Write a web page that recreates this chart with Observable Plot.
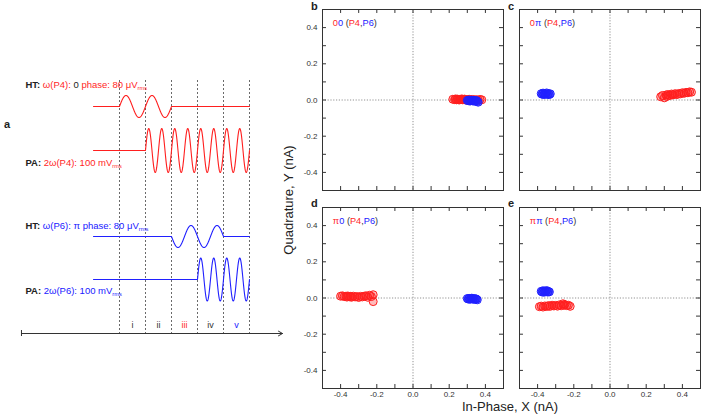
<!DOCTYPE html>
<html><head><meta charset="utf-8">
<script src="https://cdn.jsdelivr.net/npm/d3@7"></script>
<script src="https://cdn.jsdelivr.net/npm/@observablehq/plot@0.6"></script>
<style>
body{margin:0;background:#fff;}
#fig{position:relative;width:701px;height:415px;overflow:hidden;background:#fff;}
</style></head>
<body><div id="fig"></div>
<script>
// ---------------- DATA ----------------
// scatter panels (In-Phase X, Quadrature Y in nA)
const b00_P4_x = [0.22,0.23,0.235,0.24,0.245,0.25,0.255,0.26,0.265,0.27,0.275,0.28,0.285,0.29,0.30,0.31,0.32,0.33,0.34,0.35,0.36,0.37,0.38];
const b00_P4_y = [0.004,0.002,0.006,0.001,0.005,0.003,0.0,0.004,0.002,0.006,0.001,0.003,0.005,0.0,0.002,0.004,0.001,0.003,0.0,0.002,-0.001,0.003,0.001];
const b00_P6_x = [0.30,0.305,0.31,0.315,0.32,0.325,0.33,0.335,0.34,0.345,0.35,0.355,0.36];
const b00_P6_y = [-0.002,-0.004,0.0,-0.006,-0.003,-0.001,-0.005,-0.002,-0.007,-0.004,-0.003,-0.008,-0.012];

const c0pi_P4_x = [0.28,0.29,0.30,0.31,0.315,0.32,0.33,0.34,0.345,0.35,0.36,0.37,0.38,0.39,0.40,0.41,0.42,0.43,0.44,0.45];
const c0pi_P4_y = [0.018,0.025,0.012,0.028,0.02,0.03,0.025,0.033,0.028,0.03,0.035,0.03,0.036,0.034,0.04,0.037,0.042,0.04,0.045,0.043];
const c0pi_P6_x = [-0.38,-0.375,-0.37,-0.365,-0.36,-0.355,-0.35,-0.345,-0.34,-0.335,-0.33];
const c0pi_P6_y = [0.035,0.032,0.038,0.03,0.036,0.033,0.039,0.031,0.035,0.03,0.034];

const dpi0_P4_x = [-0.40,-0.39,-0.38,-0.37,-0.365,-0.36,-0.35,-0.345,-0.34,-0.33,-0.32,-0.31,-0.30,-0.29,-0.28,-0.27,-0.26,-0.25,-0.24,-0.23,-0.22,-0.22];
const dpi0_P4_y = [0.01,0.012,0.008,0.01,0.005,0.011,0.007,0.009,0.004,0.01,0.006,0.008,0.003,0.009,0.006,0.01,0.012,0.004,0.015,0.008,0.018,-0.02];
const dpi0_P6_x = [0.30,0.305,0.31,0.315,0.32,0.325,0.33,0.335,0.34,0.345,0.35,0.355];
const dpi0_P6_y = [-0.003,-0.006,-0.002,-0.007,-0.004,-0.001,-0.006,-0.003,-0.008,-0.004,-0.006,-0.01];

const epipi_P4_x = [-0.39,-0.38,-0.37,-0.36,-0.35,-0.34,-0.33,-0.32,-0.31,-0.30,-0.29,-0.28,-0.27,-0.26,-0.255,-0.25,-0.24,-0.23,-0.22];
const epipi_P4_y = [-0.048,-0.045,-0.05,-0.044,-0.047,-0.042,-0.046,-0.04,-0.044,-0.041,-0.045,-0.038,-0.043,-0.032,-0.04,-0.036,-0.042,-0.04,-0.046];
const epipi_P6_x = [-0.38,-0.375,-0.37,-0.365,-0.36,-0.355,-0.35,-0.345,-0.34,-0.335];
const epipi_P6_y = [0.037,0.033,0.04,0.032,0.038,0.035,0.041,0.033,0.036,0.034];

const panelTags = [["0","0"],["0","π"],["π","0"],["π","π"]];
const minorTicks = [-0.4,-0.3,-0.2,-0.1,0,0.1,0.2,0.3,0.4];
const labelTicks = [-0.4,-0.2,0,0.2,0.4];

// schematic (panel a): time segments and drive traces
const segmentBounds = [1,2,3,4,5,6];
const segmentLabels = ["i","ii","iii","iv","v"];
const traceNames = ["HT P4","PA P4","HT P6","PA P6"];
const traceLevels = [10.6,15.0,23.6,27.9];
const traceAmps = [1.1,2.2,1.1,2.15];
const burstStarts = [1,2,3,4];
const burstEnds = [3,6,5,6];
const burstCycles = [2,8,2,4];
const burstPhases = [0,0,Math.PI,0];
const labelLevels = [8.5,16.3,22.6,29.1];
const timeAxisRange = [-2.77,7.27];
const timeAxisLevel = 33.3;
const dashTopLevel = 8.0;
const numeralLevel = 32.5;

// ---------------- STYLE ----------------
const RED = "#ff1f1f", BLUE = "#2020ff", DARK = "#222";
const FONT = '"Liberation Sans", Arial, Helvetica, sans-serif';
const fig = document.getElementById("fig");
function place(el, left, top){ el.style.position="absolute"; el.style.left=left+"px"; el.style.top=top+"px"; fig.appendChild(el); }
const zip = (xs, ys) => xs.map((x,i)=>({x, y: ys[i]}));
function lin(plot, name){ const s = plot.scale(name); return d3.scaleLinear(s.domain, s.range); }
function addParts(svg, x, y, parts, fs, anchor){
  const t = d3.select(svg).append("text").attr("x", x).attr("y", y)
    .attr("font-family", FONT).attr("font-size", fs).attr("text-anchor", anchor || "start")
    .attr("dominant-baseline", "middle").attr("fill", DARK);
  for (const p of parts) {
    const ts = t.append("tspan").attr("fill", p.c || DARK).text(p.s);
    if (p.b) ts.attr("font-weight", "bold");
    if (p.sub) ts.attr("font-size", fs*0.6).attr("dy", fs*0.35);
  }
}

// ---------------- SCATTER PANELS ----------------
function scatter(red, blue, tag, showX, showY){
  const tl = 0.022;
  const plot = Plot.plot({
    width: 215, height: 210, marginLeft: 32, marginRight: 2, marginTop: 9, marginBottom: 20,
    style: {background: "transparent", overflow: "visible", fontFamily: FONT, fontSize: "8px", color: "#333"},
    x: {domain: [-0.5,0.5], axis: showX ? "bottom" : null, ticks: labelTicks, tickSize: 0, tickPadding: 3, tickFormat: d => d.toFixed(1), label: null},
    y: {domain: [-0.5,0.5], axis: showY ? "left" : null, ticks: labelTicks, tickSize: 0, tickPadding: 5, tickFormat: d => d.toFixed(1), label: null},
    marks: [
      Plot.ruleX([0], {stroke: "#777", strokeWidth: 0.8, strokeDasharray: "1.2,1.6"}),
      Plot.ruleY([0], {stroke: "#777", strokeWidth: 0.8, strokeDasharray: "1.2,1.6"}),
      Plot.ruleX(minorTicks, {x: d => d, y1: -0.5, y2: -0.5 + tl, stroke: "#333"}),
      Plot.ruleX(minorTicks, {x: d => d, y1: 0.5, y2: 0.5 - tl, stroke: "#333"}),
      Plot.ruleY(minorTicks, {y: d => d, x1: -0.5, x2: -0.5 + tl, stroke: "#333"}),
      Plot.ruleY(minorTicks, {y: d => d, x1: 0.5, x2: 0.5 - tl, stroke: "#333"}),
      Plot.dot(red, {x: "x", y: "y", r: 4, fill: RED, fillOpacity: 0.3, stroke: RED, strokeWidth: 1}),
      Plot.dot(blue, {x: "x", y: "y", r: 4, fill: BLUE, fillOpacity: 0.4, stroke: BLUE, strokeWidth: 1}),
      Plot.frame({stroke: "#333", strokeWidth: 1})
    ]
  });
  const sx = lin(plot, "x"), sy = lin(plot, "y");
  addParts(plot, sx(-0.44), sy(0.417), [
    {s: tag[0], c: RED}, {s: tag[1], c: BLUE}, {s: " (", c: "#333"}, {s: "P4", c: RED},
    {s: ",", c: "#333"}, {s: "P6", c: BLUE}, {s: ")", c: "#333"}], 9.2);
  return plot;
}
place(scatter(zip(b00_P4_x,b00_P4_y), zip(b00_P6_x,b00_P6_y), panelTags[0], false, true), 290, 0);
place(scatter(zip(c0pi_P4_x,c0pi_P4_y), zip(c0pi_P6_x,c0pi_P6_y), panelTags[1], false, false), 487, 0);
place(scatter(zip(dpi0_P4_x,dpi0_P4_y), zip(dpi0_P6_x,dpi0_P6_y), panelTags[2], true, true), 290, 198);
place(scatter(zip(epipi_P4_x,epipi_P4_y), zip(epipi_P6_x,epipi_P6_y), panelTags[3], true, false), 487, 198);

// ---------------- SCHEMATIC PANEL a ----------------
function tracePoints(k){
  const pts = [{t: 0, v: traceLevels[k]}];
  const s = burstStarts[k], e = burstEnds[k], n = 400;
  for (let i = 0; i <= n; i++) {
    const t = s + (e - s) * i / n;
    pts.push({t, v: traceLevels[k] - traceAmps[k] * Math.sin(2*Math.PI*burstCycles[k]*(t - s)/(e - s) + burstPhases[k])});
  }
  pts.push({t: 6, v: traceLevels[k]});
  return pts;
}
const traceColor = [RED, RED, BLUE, BLUE];
const numeralColor = ["#333","#333",RED,"#333",BLUE];
const left = Plot.plot({
  width: 290, height: 415, margin: 0,
  style: {background: "transparent", overflow: "visible", fontFamily: FONT},
  x: {domain: [0,6], range: [93,249], axis: null},
  y: {domain: [0,41.5], range: [0,415], axis: null},
  marks: [
    Plot.ruleX(segmentBounds, {x: d => d, y1: dashTopLevel, y2: timeAxisLevel, stroke: "#444", strokeWidth: 0.8, strokeDasharray: "2,2"}),
    ...traceNames.map((nm, k) => Plot.line(tracePoints(k), {x: "t", y: "v", stroke: traceColor[k], strokeWidth: 1.1})),
    Plot.arrow([{a: timeAxisRange[0], b: timeAxisRange[1]}], {x1: "a", x2: "b", y1: () => timeAxisLevel, y2: () => timeAxisLevel, stroke: "#333", strokeWidth: 1, headLength: 7}),
    Plot.ruleX([timeAxisRange[0]], {x: d => d, y1: timeAxisLevel - 0.3, y2: timeAxisLevel + 0.3, stroke: "#333"}),
    Plot.text(segmentLabels, {x: (d, i) => (segmentBounds[i] + segmentBounds[i+1]) / 2, y: () => numeralLevel, text: d => d, fill: (d, i) => numeralColor[i], fontSize: 9})
  ]
});
{
  const sx = lin(left, "x"), sy = lin(left, "y");
  const x0 = sx(-2.6), fs = 9.5;
  addParts(left, x0, sy(labelLevels[0]), [{s: "HT: ", b: true}, {s: "ω(P4): ", c: RED}, {s: "0", c: DARK}, {s: " phase: 80 μV", c: RED}, {s: "rms", c: RED, sub: true}], fs);
  addParts(left, x0, sy(labelLevels[1]), [{s: "PA: ", b: true}, {s: "2ω(P4): 100 mV", c: RED}, {s: "rms", c: RED, sub: true}], fs);
  addParts(left, x0, sy(labelLevels[2]), [{s: "HT: ", b: true}, {s: "ω(P6): π phase: 80 μV", c: BLUE}, {s: "rms", c: BLUE, sub: true}], fs);
  addParts(left, x0, sy(labelLevels[3]), [{s: "PA: ", b: true}, {s: "2ω(P6): 100 mV", c: BLUE}, {s: "rms", c: BLUE, sub: true}], fs);
}
place(left, 0, 0);

// ---------------- OVERLAY TEXT ----------------
const ov = d3.create("svg").attr("width", 701).attr("height", 415).style("pointer-events", "none")
  .attr("font-family", FONT).node();
const o = d3.select(ov);
const letters = [["a", 4, 128], ["b", 311, 10], ["c", 508, 10], ["d", 311, 207], ["e", 508, 207]];
for (const [s, x, y] of letters) o.append("text").attr("x", x).attr("y", y).attr("font-size", 11).attr("font-weight", "bold").attr("fill", DARK).text(s);
o.append("text").attr("transform", "translate(290,200) rotate(-90)").attr("text-anchor", "middle").attr("dominant-baseline", "middle")
  .attr("font-size", 13).attr("fill", DARK).text("Quadrature, Y (nA)");
o.append("text").attr("x", 510).attr("y", 408).attr("text-anchor", "middle").attr("dominant-baseline", "middle")
  .attr("font-size", 13).attr("fill", DARK).text("In-Phase, X (nA)");
place(ov, 0, 0);
</script>
</body></html>
